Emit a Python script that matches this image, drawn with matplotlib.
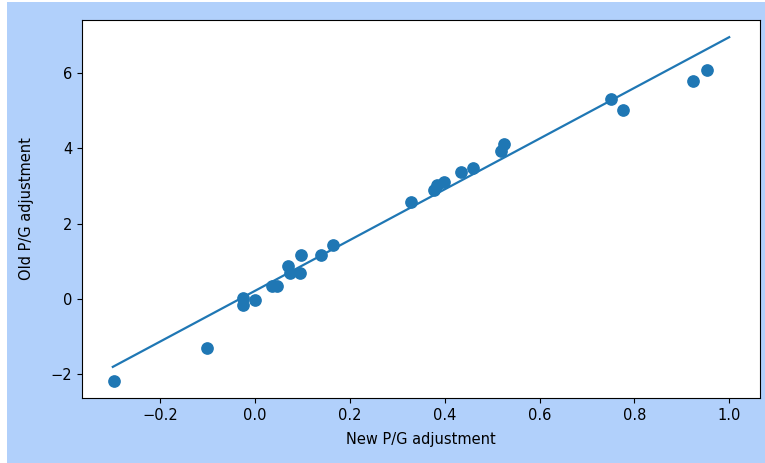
import numpy as np
import matplotlib
matplotlib.use("Agg")
import matplotlib.pyplot as plt
from matplotlib.patches import Rectangle

# points
new_adj = [-0.297, -0.102, -0.025, -0.025, 0.0, 0.036, 0.047, 0.070, 0.074,
           0.095, 0.097, 0.140, 0.165, 0.328, 0.377, 0.383, 0.398, 0.434,
           0.460, 0.519, 0.525, 0.750, 0.775, 0.924, 0.953]
old_adj = [-2.17, -1.30, 0.02, -0.17, -0.03, 0.35, 0.35, 0.88, 0.68,
           0.68, 1.17, 1.17, 1.44, 2.57, 2.89, 3.02, 3.10, 3.36,
           3.47, 3.92, 4.11, 5.30, 5.03, 5.80, 6.07]

# fitted line
fit_x = [-0.3, 1.0]
fit_y = [-1.80, 6.95]

bg = '#b1d0fb'
fig = plt.figure(figsize=(7.65, 4.63), dpi=100, facecolor=bg)
# white strip of the screenshot at left/top
fig.patches.append(Rectangle((0, 0), 7 / 765, 1, transform=fig.transFigure,
                             facecolor='white', edgecolor='none', zorder=-1))
fig.patches.append(Rectangle((0, 1 - 2 / 463), 1, 2 / 463, transform=fig.transFigure,
                             facecolor='white', edgecolor='none', zorder=-1))

ax = fig.add_axes([82 / 765, 1 - 398 / 463, (760 - 82) / 765, (398 - 20) / 463])
ax.scatter(new_adj, old_adj, s=66, color='#1f77b4')
ax.plot(fit_x, fit_y, color='#1f77b4', lw=1.6)

ax.set_xlabel('New P/G adjustment', fontsize=10.5, labelpad=7)
ax.set_ylabel('Old P/G adjustment', fontsize=10.5, labelpad=12)
ax.tick_params(labelsize=10.5)
ax.set_xticks([-0.2, 0.0, 0.2, 0.4, 0.6, 0.8, 1.0])
ax.set_yticks([-2, 0, 2, 4, 6])

fig.savefig('out.png', dpi=100, facecolor=bg)
